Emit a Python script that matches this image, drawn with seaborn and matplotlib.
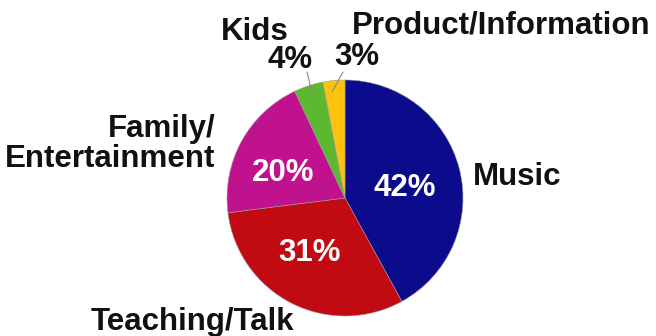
import matplotlib
matplotlib.use("Agg")
import matplotlib.pyplot as plt
import seaborn as sns

categories = ["Music", "Teaching/Talk", "Family/\nEntertainment", "Kids", "Product/Information"]
values = [42, 31, 20, 4, 3]
colors = ["#0b0b8c", "#c20a12", "#c0128e", "#5cb82e", "#fec20e"]

sns.set_theme(style="white")
plt.rcParams['font.family'] = ['Liberation Sans', 'DejaVu Sans']

W, H = 656, 336
fig = plt.figure(figsize=(W / 100, H / 100), dpi=100)
ax = fig.add_axes([0, 0, 1, 1])

cx, cy, r = 345, H - 198, 118
ax.pie(values, colors=sns.color_palette(colors), startangle=90, counterclock=False,
       center=(cx, cy), radius=r, frame=True,
       wedgeprops=dict(edgecolor="#9a9a9a", linewidth=0.4))
ax.set_xlim(0, W)
ax.set_ylim(0, H)
ax.set_aspect("equal")
ax.axis("off")

fs = 22.5
bold = dict(fontsize=fs, fontweight="bold", color="#111111")

# category labels (pixel positions, y from top)
lab_pos = [(473, 177, "left"), (192, 322, "center"), (215, 144, "right"),
           (255, 32, "center"), (501, 25, "center")]
for name, (x, y, ha) in zip(categories, lab_pos):
    ax.text(x, H - y, name, ha=ha, va="center", linespacing=1.0, **bold)

# percent labels
pct_pos = [(405, 188, "white"), (310, 253, "white"), (283, 173, "white"),
           (290, 60, "#111111"), (357, 57, "#111111")]
for v, (x, y, c) in zip(values, pct_pos):
    ax.text(x, H - y, f"{v}%", ha="center", va="center", fontsize=fs,
            fontweight="bold", color=c)

# leader lines for small slices
for (x0, y0, x1, y1) in [(307, 72, 313, 97), (343, 72, 332, 92)]:
    ax.plot([x0, x1], [H - y0, H - y1], color="#8a8a8a", lw=0.8)

fig.savefig("out.png", dpi=100)
